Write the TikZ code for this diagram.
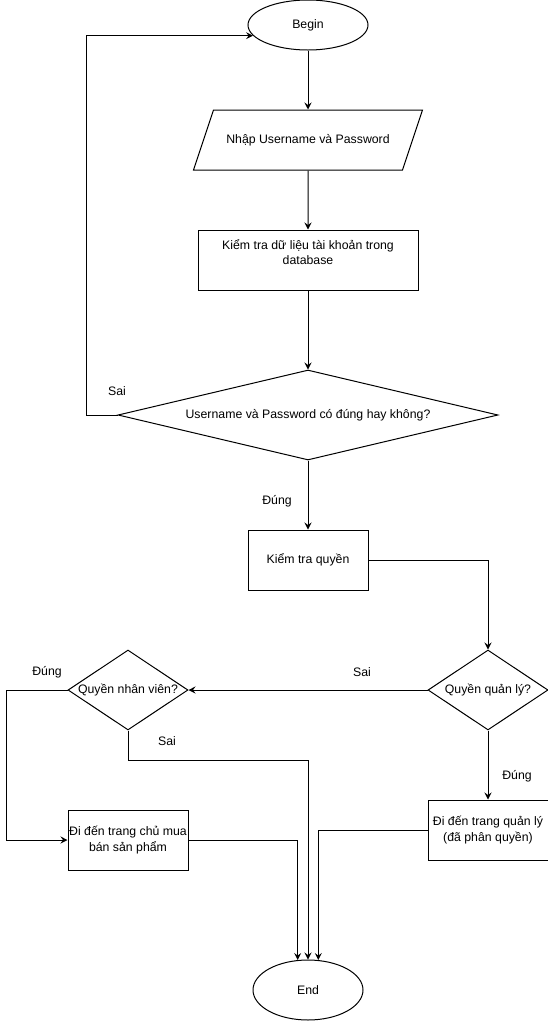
\documentclass[tikz,border=0pt]{standalone}
\usepackage{fontspec}
\setmainfont{Liberation Sans}
\usetikzlibrary{shapes.geometric,arrows.meta}
\tikzset{
  every node/.style={
    font=\fontsize{12.3}{15.5}\selectfont,
    inner sep=0pt
  },
  terminal/.style={draw, ellipse, minimum width=120pt, minimum height=50pt},
  io/.style={draw, trapezium, trapezium left angle=71.57, trapezium right angle=108.43,
    trapezium stretches body, text height=9pt, text depth=3pt, inner ysep=24pt,
    minimum width=229pt},
  process/.style={draw, rectangle, minimum width=120pt, minimum height=60pt, align=center},
  decision/.style={draw, diamond, minimum width=120pt, minimum height=80pt},
  flow/.style={-{Stealth[length=7pt,width=7pt,inset=2.5pt]}}
}

\begin{document}
\begin{tikzpicture}[x=1pt, y=-1pt, line width=1pt]
    \useasboundingbox (0,0) rectangle (548,1021);
    \node[terminal] (begin) at (308,25) {Begin};
    \node[io] (input) at (308,140) {Nhập Username và Password};
    \node[process, minimum width=220pt] (check) at (308,260) {Kiểm tra dữ liệu tài khoản trong\\database\\\mbox{}};
    \node[decision, minimum width=380pt, minimum height=90pt] (login) at (308,415)
      {\makebox[0pt]{Username và Password có đúng hay không?}};
    \node[process] (perm) at (308,560) {Kiểm tra quyền};
    \node[decision] (mgr) at (488,690) {\makebox[0pt]{Quyền quản lý?}};
    \node[decision] (staff) at (128,690) {\makebox[0pt]{Quyền nhân viên?}};
    \node[process] (shop) at (128,840) {Đi đến trang chủ mua\\bán sản phẩm};
    \node[process] (admin) at (488,830) {Đi đến trang quản lý\\(đã phân quyền)};
    \node[terminal, minimum width=110pt, minimum height=60pt] (end) at (308,990) {End};

    \node (loginno) at (117,391) {Sai};
    \node (loginyes) at (277,501) {Đúng};
    \node (mgrno) at (362,672) {Sai};
    \node (mgryes) at (517,776) {Đúng};
    \node (staffyes) at (47,672) {Đúng};
    \node (staffno) at (167,741) {Sai};

    \draw[flow] (begin) -- (input);
    \draw[flow] (input) -- (check);
    \draw[flow] (check) -- (login);
    \draw[flow] (login) -- (perm);
    \draw[flow] (login.west) -- ++(-31,0) |- (begin.191);
    \draw[flow] (perm.east) -| (mgr.north);
    \draw[flow] (mgr.west) -- (staff.east);
    \draw[flow] (mgr) -- (admin);
    \draw[flow] (staff.west) -- ++(-61,0) |- (shop.west);
    \draw[flow] (staff.south) -- ++(0,30) -| (end.north);
    \draw[flow] (shop.east) -| (end.109);
    \draw[flow] (admin.west) -| (end.71);
\end{tikzpicture}
\end{document}
